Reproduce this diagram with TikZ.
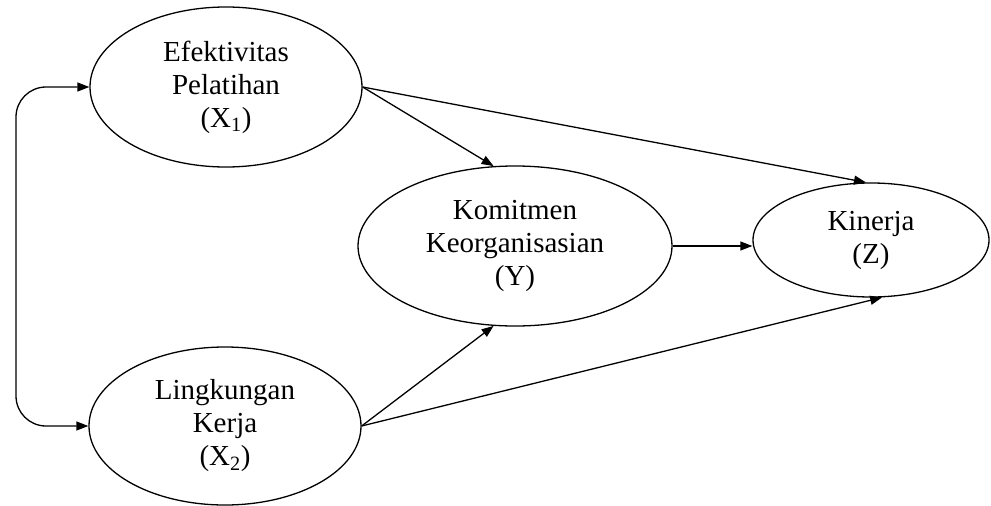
\documentclass[tikz,border=0pt]{standalone}
\usepackage{fontspec}
\setmainfont{Liberation Serif}
\usetikzlibrary{shapes.geometric,arrows.meta}
\begin{document}
\begin{tikzpicture}[x=1pt,y=-1pt,
  latent/.style={draw,ellipse,line width=1.3pt,inner sep=0pt,align=center,font=\fontsize{29}{33}\selectfont},
  link/.style={line width=1.3pt,-{Triangle[length=12pt,width=9pt]}},
  biarrow/.style={line width=1.3pt,rounded corners=30pt,{Triangle[length=12pt,width=9pt]}-{Triangle[length=12pt,width=9pt]}}]
\useasboundingbox (0,0) rectangle (991,506);
\node[latent,minimum width=272,minimum height=160] (X1) at (226,87) {Efektivitas\\Pelatihan\\(X\textsubscript{1})};
\node[latent,minimum width=272,minimum height=158] (X2) at (225,426) {Lingkungan\\Kerja\\(X\textsubscript{2})};
\node[latent,minimum width=314,minimum height=160] (Y) at (515,246) {Komitmen\\Keorganisasian\\(Y)};
\node[latent,minimum width=236,minimum height=114] (Z) at (871,240) {Kinerja\\(Z)};
\coordinate (c1) at (16,87);
\coordinate (c2) at (16,426);
\draw[biarrow] (X1.west) -- (c1) -- (c2) -- (X2.west);
\draw[link] (X1.east) -- (Y.105);
\draw[link] (X1.east) -- (Z.95);
\draw[link] (Y.east) -- (Y.east -| Z.west);
\draw[link] (X2.east) -- (Y.255);
\draw[link] (X2.east) -- (Z.281);
\end{tikzpicture}
\end{document}
